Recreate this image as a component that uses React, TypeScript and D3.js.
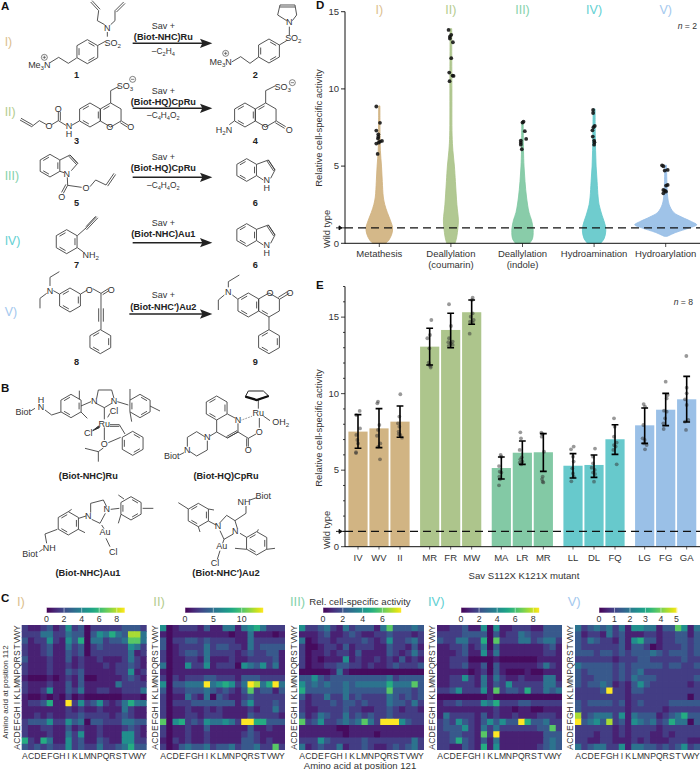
import React from "react";
import * as d3 from "d3";

const FONT = "'Liberation Sans', Arial, sans-serif";
const INK = "#333";
const colors = ["#cfb07c", "#a9c286", "#7cc6a0", "#5fc6c9", "#95bde6"];
const romanColors = ["#dcc08e", "#b4cc8e", "#85d2ac", "#62d0d2", "#a3c8ee"];
const romans = ["I)", "II)", "III)", "IV)", "V)"];

// Panel D
const violinNames = [["Metathesis"], ["Deallylation", "(coumarin)"], ["Deallylation", "(indole)"], ["Hydroamination"], ["Hydroarylation"]];
const violinLevels = [
  [0, 0.2, 0.6, 1, 1.5, 2, 2.5, 3, 4, 5, 6, 7, 8.9],
  [0, 0.4, 1, 1.5, 2.5, 4, 5, 6, 7, 10, 13.9],
  [0, 0.3, 0.7, 1, 1.5, 2, 3, 4, 5, 6, 7.9],
  [0, 0.3, 0.8, 1.2, 1.8, 2.5, 3, 4, 5, 6, 7, 8.7],
  [0.45, 0.7, 1, 1.2, 1.4, 1.7, 2, 2.5, 3, 4, 5.05],
];
const violinDensity = [
  [6.5, 9.5, 12.5, 13.3, 11, 8, 5.5, 4, 3, 2.2, 1.1, 0.8, 0.6],
  [4.2, 5.8, 7, 7.5, 6, 4.5, 3.5, 2, 1.2, 1, 0.8],
  [7, 10, 10.7, 10.5, 9, 6.5, 4, 2.5, 1.5, 1, 0.7],
  [6.5, 10, 11.7, 11, 8, 5, 4, 3, 2, 1.5, 1.2, 1],
  [1.5, 10, 24, 31, 26, 16, 8, 3.5, 2, 1.2, 0.8],
];
const violinPoints = [
  [8.86, 7.8, 7.3, 7.06, 6.9, 6.78, 6.63, 6.59, 6.52, 6.46, 5.79],
  [13.82, 13.5, 13.39, 13.26, 13.02, 11.99, 11.06, 10.86, 10.84, 10.5],
  [7.88, 7.82, 7.26, 6.76, 6.65, 6.52, 6.39, 6.09],
  [8.64, 8.44, 7.6, 7.52, 7.32, 6.91, 6.65, 6.54, 6.39],
  [5.05, 4.99, 4.75, 4.71, 3.78, 3.74, 3.46, 3.41, 3.35, 3.24],
];
const violinJitter = [
  [-9, 2, -9, -3, -3, -4, 8, 2, -2, -9, -5],
  [-7, 1, -3, -3, 6, 1, -5, 5, 8, -4],
  [3, 0, 7, 11, -5, -5, -5, -2],
  [-3, -3, 2, -2, -5, -4, 0, 1, 0],
  [-11, -7, 6, -3, 6, 1, -7, -2, 1, -7],
];

// Panel E
const barGroups = [0, 0, 0, 1, 1, 1, 2, 2, 2, 3, 3, 3, 4, 4, 4];
const barNames = ["IV", "WV", "II", "MR", "FR", "MW", "MA", "LR", "MR", "LL", "DL", "FQ", "LG", "FG", "GA"];
const barMeans = [7.52, 7.73, 8.17, 13.07, 14.16, 15.32, 5.14, 6.14, 6.17, 5.29, 5.34, 7.02, 7.93, 8.95, 9.63];
const barHigh = [8.63, 9.02, 9.19, 14.27, 15.25, 16.12, 5.86, 6.91, 7.39, 6.08, 5.99, 7.97, 9.06, 10.02, 11.13];
const barLow = [6.43, 6.47, 7.15, 11.87, 13.0, 14.53, 4.42, 5.38, 4.92, 4.49, 4.53, 6.03, 6.75, 7.91, 8.15];
const barPoints = [
  [8.87, 8.6, 7.73, 7.3, 6.97, 6.75, 6.17, 6.12],
  [9.48, 9.37, 7.95, 7.63, 7.25, 6.75, 6.54, 5.71],
  [9.96, 8.5, 8.06, 7.84, 7.52, 7.36, 7.3, 7.12],
  [14.81, 13.83, 13.62, 12.96, 12.03, 11.87, 11.81, 11.7],
  [15.84, 14.42, 13.62, 13.4, 13.36, 13.29, 13.18, 13.12],
  [16.27, 16.12, 15.25, 15.03, 14.81, 14.71, 14.64, 13.92],
  [5.99, 5.88, 5.27, 4.9, 4.84, 4.58, 4.4, 4.01],
  [7.47, 7.08, 6.32, 5.84, 5.71, 5.56, 5.49, 5.38],
  [7.45, 7.36, 7.19, 6.21, 4.58, 4.42, 4.25, 4.2],
  [6.54, 6.36, 5.88, 5.56, 5.12, 4.79, 4.58, 4.27],
  [6.41, 5.88, 5.45, 5.16, 5.01, 4.84, 4.75, 4.25],
  [8.39, 7.84, 7.19, 6.8, 6.64, 6.54, 6.32, 5.38],
  [9.32, 9.15, 7.95, 7.08, 6.97, 6.75, 6.64, 6.36],
  [10.78, 9.91, 9.69, 8.89, 8.82, 8.39, 8.06, 7.69],
  [12.46, 10.39, 10.02, 9.63, 9.26, 8.28, 8.17, 7.63],
];
const barJitter = [
  [5, -5, 6, -5, -2, 0, -6, -6],
  [-3, -5, 1, -3, -6, 4, -2, 3],
  [1, -2, -6, -2, -4, -4, 1, 6],
  [5, 1, -7, -1, -3, -1, 3, 3],
  [-5, 1, -5, 6, -7, 0, 6, -6],
  [3, 1, 3, -3, 6, -5, 3, -6],
  [-2, 0, -7, -5, 0, -6, -4, -7],
  [-6, -4, -8, -2, -6, 0, -8, -3],
  [-6, -2, -5, 2, -2, -4, -2, 0],
  [2, -6, 0, 2, -2, 0, 2, -5],
  [3, -3, -3, -7, 2, -3, 3, 0],
  [-3, -1, -3, 5, -3, 2, -5, 5],
  [-3, 1, -4, -6, 0, -2, 6, 1],
  [0, 6, 3, -5, 3, -2, -7, -6],
  [-1, 0, 0, -5, 0, 5, -5, -2],
];

// Panel C: rows run top to bottom, columns left to right; digits are tenths of the colour bar
const aa = "ACDEFGHIKLMNPQRSTVWY".split("");
const aaRows = "YWVTSRQPNMLKIHGFEDCA".split("");
const heat1 = ["21123125230222223332","22244224330354643884","31225215360442334774","21123114230232222542","21123113230222222412","31112113121121112421","21112112121112122321","21112113231111122512","10001012130011112321","21112113131111142222","21125113241122112224","10010102010000001110","12236119252352124644","11111112121121114211","11212112232222123211","23335225340332224433","21122113121121112321","21112114251121115521","62164115231132115522","32323225232242234633"];
const heat2 = ["50122213114414564222","10111111111011411101","30223323222211422222","30122224233221423333","20123324222212322331","20112214111211222231","40115225122205435241","10111111111111111111","20212223322213332222","50334449456524984694","30223334323213723313","20114214032112322222","20222333333313522232","20112112121111212242","20112212221111322221","70562325445429966333","20112113111111311211","20112112111112321111","10212112111113321211","20134334233423342272"];
const heat3 = ["52234214233314733343","11123112321122322212","40122122223212522342","20012213122211322131","20112122131111321242","20101115121121213121","20112233221211232223","00000141000000000000","33532333333333423333","53434334344444644473","63333334333333733323","31224224232222432323","21222323323222433242","21122223221122321221","31243224232322322222","72352234347429995322","11111100111111111111","11111110111101111111","22253222223222222242","41232241223211232342"];
const heat4 = ["11223115051122211333","22223333031224322333","32244226072224423442","11223124031111111231","11123115141111111221","11222000010000001111","11223113031111112421","11111012031000100111","11225214142112111441","11222214132522222442","22352225172332622434","00000000100000000000","12232225462223322222","11111111121101100111","14222213121121112221","23253213535339633422","23335214242222223372","22332217291111111333","22363213141111111343","22113216151111112343"];
const heat5 = ["42343424155441337514","31221423111221223313","32432213156331223323","32222223133201222323","33323323233343233323","22222212223322222322","43333323233333233223","32333323234222222222","32233323243332222223","32334312135322222212","22223922133222222222","22222222122222222202","32333323123222233333","32222222122222122222","82344425143331234633","93453823154342364403","22222212122221222222","22212212122211212222","22112211121211122211","42344225144332323523"];
const heatRows = [heat1, heat2, heat3, heat4, heat5];
const heatMax = [8.9, 13.8, 7.9, 8.65, 5.05];
const heatTicks = [[0, 2, 4, 6, 8], [0, 5, 10], [0, 2, 4, 6], [0, 2, 4, 6, 8], [0, 1, 2, 3, 4, 5]];
const heatLeft = [21.7, 160, 299, 437, 575];
const barLeft = [46.5, 185, 323, 461, 599];
const romanLeft = [17, 153.3, 290, 428, 567.7];

const yD = d3.scaleLinear().domain([0, 15]).range([243.3, 11.7]);
const xD = d3.scaleLinear().domain([0, 4]).range([379.3, 665.7]);
const yE = d3.scaleLinear().domain([0, 17]).range([546.7, 286.5]);
const stepE = 21;
const gapE = 8.67;
const xE = (i: number) => 358 + i * stepE + barGroups[i] * gapE;

function Txt({ x, y, size = 9.5, anchor = "start", weight = "normal", fill = INK, rot, children, style }: any) {
  return (
    <text x={rot === undefined ? x : 0} y={rot === undefined ? y : 0} transform={rot === undefined ? undefined : `translate(${x},${y}) rotate(${rot})`} fontSize={size} textAnchor={anchor} fontWeight={weight} fill={fill} fontFamily={FONT} style={style}>
      {children}
    </text>
  );
}

// Chem text with subscripts such as C_4H_4O_2, in the 3x drawing space
function Chem({ x, y, s, size, anchor = "middle", weight = "normal" }: any) {
  const fs = size ?? (weight === "bold" ? 27.5 : 27);
  const parts = String(s).split(/(_[\dn])/);
  let pending = 0;
  return (
    <text x={x} y={y} fontSize={fs} textAnchor={anchor} fontWeight={weight} fill={weight === "bold" ? "#222" : "#333"} fontFamily={FONT}>
      {parts.filter((p) => p !== "").map((p, i) => {
        if (p[0] === "_") {
          const dy = 6 - pending;
          pending = 6;
          return <tspan key={i} dy={dy} fontSize={fs * 0.68}>{p.slice(1)}</tspan>;
        }
        const dy = -pending;
        pending = 0;
        return <tspan key={i} dy={dy}>{p}</tspan>;
      })}
    </text>
  );
}

function ring(cx: number, cy: number, r = 36, dbl = [0, 2, 4]) {
  const v = d3.range(6).map((i) => {
    const a = ((-90 + 60 * i) * Math.PI) / 180;
    return [cx + r * Math.cos(a), cy + r * Math.sin(a)];
  });
  let d = "M" + v.map((p) => p.join(",")).join("L") + "Z";
  dbl.forEach((i) => {
    const a = v[i], b = v[(i + 1) % 6];
    const p = (q: number[], o: number[], t: number) => [q[0] + (o[0] - q[0]) * t, q[1] + (o[1] - q[1]) * t];
    const a2 = p(p(a, b, 0.14), [cx, cy], 0.2);
    const b2 = p(p(b, a, 0.14), [cx, cy], 0.2);
    d += `M${a2.join(",")}L${b2.join(",")}`;
  });
  return d;
}
const pl = (...n: number[]) => "M" + d3.range(0, n.length, 2).map((i) => `${n[i]},${n[i + 1]}`).join("L");
const dbl = (x1: number, y1: number, x2: number, y2: number, o = 6) => {
  const l = Math.hypot(x2 - x1, y2 - y1);
  const nx = (-(y2 - y1) / l) * o, ny = ((x2 - x1) / l) * o;
  return pl(x1, y1, x2, y2) + pl(x1 + nx, y1 + ny, x2 + nx, y2 + ny);
};

const bondsA = [
  ring(262, 155), pl(294, 136, 316, 124), pl(322, 110, 322, 96), pl(314, 74, 292, 62, 296, 32), dbl(296, 32, 272, 6), pl(332, 74, 345, 62, 345, 32), dbl(345, 32, 371, 6), pl(230, 174, 205, 190, 176, 172, 150, 188),
  ring(807, 153), pl(838, 135, 860, 122), pl(868, 105, 868, 80), pl(860, 62, 833, 45, 840, 15), dbl(840, 15, 885, 15), pl(885, 15, 890, 45, 877, 62), pl(776, 171, 750, 190, 722, 170, 695, 186),
  ring(270, 345, 36, [1, 3, 5]), ring(332, 345, 36, [5]), pl(332, 309, 332, 272, 355, 260), pl(238, 363, 215, 376), pl(198, 376, 175, 362), dbl(175, 362, 175, 335), pl(175, 362, 155, 374), pl(140, 374, 118, 362, 95, 380), dbl(95, 380, 60, 360),
  dbl(364, 363, 385, 376),
  ring(735, 345, 36, [1, 3, 5]), ring(797, 345, 36, [5]), pl(797, 309, 797, 272, 825, 258), pl(703, 363, 688, 374), dbl(829, 363, 857, 380),
  ring(150, 497, 34, [1, 3, 5]), pl(180, 480, 210, 465, 233, 490, 214, 512), dbl(210, 465, 233, 490, 5), pl(180, 514, 192, 518), pl(202, 532, 203, 556), dbl(203, 556, 190, 580), pl(203, 556, 245, 562), pl(270, 560, 287, 540, 318, 555), dbl(318, 555, 342, 520),
  ring(740, 510, 34, [1, 3, 5]), pl(770, 493, 805, 480, 825, 510, 812, 535), dbl(805, 480, 825, 510, 5), pl(770, 527, 790, 540),
  ring(740, 705, 34, [1, 3, 5]), pl(770, 688, 805, 675, 825, 705, 812, 730), dbl(805, 675, 825, 705, 5), pl(770, 722, 790, 735),
  ring(200, 725, 36, [1, 3, 5]), pl(232, 707, 258, 684), dbl(256, 686, 290, 650, 5), pl(258, 680, 287, 649), pl(232, 743, 250, 756),
  ring(210, 900, 36, [1, 3, 5]), pl(178, 882, 160, 872), pl(150, 858, 150, 832, 178, 815), pl(140, 880, 120, 895, 120, 925), pl(242, 882, 262, 870), pl(278, 866, 303, 880, 325, 866), pl(303, 880, 303, 989), pl(296, 925, 296, 965), pl(310, 925, 310, 965), pl(308, 884, 327, 872), ring(301, 1025, 36, [1, 3, 5]),
  ring(745, 915, 36, [1, 3, 5]), ring(807, 915, 36, [3]), pl(713, 897, 697, 885), pl(685, 862, 685, 845, 718, 825), pl(673, 885, 655, 900, 655, 930), pl(840, 897, 868, 880), pl(835, 892, 862, 875), pl(807, 951, 807, 989), ring(807, 1025, 36, [1, 3, 5]),
].join("");

const bondsB = [
  pl(92, 243, 105, 235), pl(135, 240, 155, 255, 183, 246), ring(213, 228, 35, [1, 3, 5]), pl(238, 208, 238, 182), pl(243, 246, 262, 265), pl(243, 228, 273, 215),
  pl(290, 205, 295, 180, 335, 180, 342, 205), pl(288, 220, 313, 233, 335, 220), pl(352, 215, 385, 225), ring(420, 228, 35, [0, 2, 4]), pl(390, 210, 390, 177), pl(390, 246, 395, 275), pl(450, 228, 480, 243),
  pl(313, 233, 313, 268), pl(323, 262, 330, 250), dbl(330, 284, 358, 284, 5), pl(358, 284, 375, 312), ring(398, 340, 36, [0, 2, 4]), pl(313, 292, 313, 330), pl(325, 338, 362, 322), pl(310, 354, 295, 365, 255, 355), pl(295, 365, 295, 395),
  ring(650, 234, 36, [1, 3, 5]), pl(682, 252, 705, 264), pl(714, 280, 714, 306, 682, 324, 650, 306, 650, 270), dbl(714, 306, 682, 324, 5), pl(650, 306, 630, 318), pl(614, 320, 590, 305, 562, 322, 562, 350), pl(570, 365, 590, 378, 622, 360, 622, 332), pl(538, 375, 552, 368),
  pl(714, 306, 745, 325), dbl(745, 325, 745, 350, 5), pl(745, 325, 768, 312), pl(778, 264, 778, 293), pl(790, 258, 810, 272), pl(775, 208, 775, 236),
  pl(118, 665, 128, 658), pl(140, 640, 135, 612, 172, 598), ring(205, 580, 35, [1, 3, 5]), pl(205, 545, 215, 538), pl(235, 598, 255, 608), pl(236, 565, 258, 558), pl(272, 548, 272, 520, 310, 510, 320, 530), pl(275, 568, 300, 580, 316, 550),
  pl(332, 538, 358, 535), ring(393, 535, 35, [0, 2, 4]), pl(372, 507, 355, 495), pl(363, 553, 355, 580), pl(428, 535, 460, 535), pl(305, 585, 312, 596), pl(318, 625, 330, 650),
  pl(750, 510, 770, 503), pl(738, 528, 738, 550, 705, 572), pl(705, 572, 712, 595), pl(700, 612, 672, 628, 660, 602), pl(658, 580, 680, 556, 705, 572), ring(595, 555, 35, [1, 3, 5]), pl(565, 537, 535, 518), pl(625, 537, 642, 540), pl(595, 590, 600, 606), pl(625, 573, 648, 585),
  ring(770, 640, 35, [1, 3, 5]), pl(720, 610, 740, 622), pl(772, 605, 775, 598), pl(740, 658, 705, 655), pl(800, 658, 825, 655), pl(672, 628, 668, 640), pl(660, 662, 652, 688),
].join("");

function Reaction({ y, cat, minus, tSav, tCat, tMinus, x0 = 398 }: any) {
  return (
    <g>
      <Chem x={490} y={tSav} s="Sav +" />
      <Chem x={490} y={tCat} s={cat} weight="bold" />
      {minus && <Chem x={490} y={tMinus} s={minus} size={25} />}
      <path d={pl(x0, y, 610, y)} stroke="#222" strokeWidth={4.5} fill="none" />
      <path d={`M600,${y - 14}L637,${y}L600,${y + 14}L607,${y}Z`} fill="#222" />
    </g>
  );
}

function Heat({ k }: { k: number }) {
  const x = d3.scaleBand<string>().domain(aa).range([heatLeft[k], heatLeft[k] + 125]);
  const y = d3.scaleBand<string>().domain(aaRows).range([625, 750]);
  const color = (level: number) => d3.interpolateViridis(0.03 + 0.97 * Math.pow(level / 9, 1.25));
  const bx = d3.scaleLinear().domain([0, heatMax[k]]).range([barLeft[k], barLeft[k] + 78.2]);
  const stops = d3.range(0, 1.001, 0.05);
  return (
    <g>
      {aaRows.map((r, ri) =>
        aa.map((c, ci) => (
          <rect key={r + c} x={x(c)} y={y(r)} width={x.bandwidth() + (ci < 19 ? 0.7 : 0)} height={y.bandwidth() + (ri < 19 ? 0.7 : 0)} fill={color(+heatRows[k][ri][ci])} />
        ))
      )}
      {aaRows.map((r) => (
        <Txt key={r} x={heatLeft[k] - 2} y={y(r)! + 3.1} size={8.6} anchor="middle" rot={-90}>{r}</Txt>
      ))}
      {aa.map((c) => (
        <Txt key={c} x={x(c)! + 3.1} y={758.5} size={8.6} anchor="middle">{c}</Txt>
      ))}
      <defs>
        <linearGradient id={`cb${k}`}>
          {stops.map((s) => <stop key={s} offset={s} stopColor={d3.interpolateViridis(s)} />)}
        </linearGradient>
      </defs>
      <rect x={barLeft[k]} y={607.7} width={78.2} height={5} fill={`url(#cb${k})`} />
      {heatTicks[k].map((t) => (
        <g key={t}>
          <line x1={bx(t)} x2={bx(t)} y1={607.7} y2={612.7} stroke="#fff" strokeWidth={0.5} />
          <Txt x={bx(t)} y={621.5} size={8.8} anchor="middle">{t}</Txt>
        </g>
      ))}
      <Txt x={romanLeft[k]} y={606} size={13} fill={romanColors[k]}>{romans[k]}</Txt>
    </g>
  );
}

export default function App() {
  const area = d3.area<[number, number]>().x0((d) => -d[1]).x1((d) => d[1]).y((d) => yD(d[0])).curve(d3.curveCatmullRom.alpha(0.5));
  return (
    <svg width={700} height={770} style={{ position: "absolute", left: 0, top: 0, background: "#fff" }}>
      {/* Panel labels */}
      {[["A", 1, 10], ["B", 1, 392], ["C", 1, 602], ["D", 316, 9], ["E", 316, 289]].map(([t, x, y]) => (
        <Txt key={t as string} x={x} y={y} size={11.5} weight="bold" fill="#111">{t}</Txt>
      ))}

      {/* Panel A and B drawn in 3x space */}
      <g transform="scale(0.33333)">
        <path d={bondsA} fill="none" stroke="#3a3a3a" strokeWidth={2.6} />
        {[[125], [335], [525], [720], [935]].map(([y], i) => (
          <text key={i} x={14} y={y + 14} fontSize={37} fill={romanColors[i]} fontFamily={FONT}>{romans[i]}</text>
        ))}
        <Chem x={322} y={92} s="N" />
        <Chem x={338} y={138} s="SO_2" />
        <Chem x={118} y={204} s="Me_3N" />
        <circle cx={133} cy={172} r={9} fill="none" stroke="#444" strokeWidth={2} />
        <path d={pl(128, 172, 138, 172) + pl(133, 167, 133, 177)} stroke="#444" strokeWidth={2} />
        <Chem x={230} y={234} s="1" weight="bold" />
        <Chem x={868} y={76} s="N" />
        <Chem x={880} y={124} s="SO_2" />
        <Chem x={662} y={194} s="Me_3N" />
        <circle cx={677} cy={160} r={9} fill="none" stroke="#444" strokeWidth={2} />
        <path d={pl(672, 160, 682, 160) + pl(677, 155, 677, 165)} stroke="#444" strokeWidth={2} />
        <Chem x={766} y={234} s="2" weight="bold" />
        <Reaction y={130} cat="(Biot-NHC)Ru" minus="–C_2H_4" tSav={87} tCat={120} tMinus={163} />

        <Chem x={375} y={267} s="SO_3" />
        <circle cx={398} cy={238} r={9} fill="none" stroke="#444" strokeWidth={2} />
        <path d={pl(393, 238, 403, 238)} stroke="#444" strokeWidth={2} />
        <Chem x={329} y={390} s="O" />
        <Chem x={392} y={389} s="O" />
        <Chem x={175} y={335} s="O" />
        <Chem x={147} y={387} s="O" />
        <Chem x={207} y={386} s="N" />
        <Chem x={207} y={410} s="H" />
        <Chem x={230} y={433} s="3" weight="bold" />
        <Chem x={848} y={270} s="SO_3" />
        <circle cx={877} cy={248} r={9} fill="none" stroke="#444" strokeWidth={2} />
        <path d={pl(872, 248, 882, 248)} stroke="#444" strokeWidth={2} />
        <Chem x={672} y={398} s="H_2N" />
        <Chem x={795} y={391} s="O" />
        <Chem x={868} y={398} s="O" />
        <Chem x={766} y={431} s="4" weight="bold" />
        <Reaction y={325} cat="(Biot-HQ)CpRu" minus="–C_4H_4O_2" tSav={281} tCat={315} tMinus={355} />

        <Chem x={200} y={530} s="N" />
        <Chem x={185} y={600} s="O" />
        <Chem x={258} y={574} s="O" />
        <Chem x={230} y={619} s="5" weight="bold" />
        <Chem x={800} y={548} s="N" />
        <Chem x={800} y={572} s="H" />
        <Chem x={766} y={619} s="6" weight="bold" />
        <Reaction y={532} cat="(Biot-HQ)CpRu" minus="–C_4H_4O_2" tSav={481} tCat={514} tMinus={564} />

        <Chem x={272} y={774} s="NH_2" />
        <Chem x={230} y={804} s="7" weight="bold" />
        <Chem x={800} y={743} s="N" />
        <Chem x={800} y={767} s="H" />
        <Chem x={766} y={804} s="6" weight="bold" />
        <Reaction y={728} cat="(Biot-NHC)Au1" tSav={679} tCat={712} />

        <Chem x={150} y={882} s="N" />
        <Chem x={268} y={878} s="O" />
        <Chem x={334} y={880} s="O" />
        <Chem x={230} y={1094} s="8" weight="bold" />
        <Chem x={685} y={886} s="N" />
        <Chem x={810} y={888} s="O" />
        <Chem x={870} y={888} s="O" />
        <Chem x={766} y={1094} s="9" weight="bold" />
        <Reaction y={942} cat="(Biot-NHC′)Au2" tSav={894} tCat={931} x0={388} />

        <g transform="translate(0,990)">
          <path d={bondsB} fill="none" stroke="#3a3a3a" strokeWidth={2.6} />
          <Chem x={70} y={255} s="Biot" />
          <Chem x={123} y={218} s="H" />
          <Chem x={123} y={241} s="N" />
          <Chem x={283} y={222} s="N" />
          <Chem x={342} y={222} s="N" />
          <Chem x={313} y={290} s="Ru" />
          <Chem x={342} y={253} s="Cl" />
          <Chem x={265} y={319} s="Cl" />
          <path d="M278,302L296,288L298,293Z" fill="#333" stroke="#333" strokeWidth={3} />
          <Chem x={313} y={351} s="O" />
          <Chem x={265} y={447} s="(Biot-NHC)Ru" weight="bold" />
          <Chem x={714} y={279} s="N" />
          <Chem x={775} y={259} s="Ru" />
          <Chem x={778} y={314} s="O" />
          <Chem x={745} y={369} s="O" />
          <Chem x={842} y={286} s="OH_2" />
          <Chem x={622} y={331} s="N" />
          <Chem x={562} y={368} s="N" />
          <Chem x={515} y={387} s="Biot" />
          <path d={pl(725, 270, 758, 258)} stroke="#444" strokeWidth={2.5} strokeDasharray="2 3" />
          <path d="M745,183L790,183L806,198L770,210L736,200Z" fill="none" stroke="#222" strokeWidth={3} />
          <path d="M736,200L770,210L806,198" fill="none" stroke="#111" strokeWidth={7} />
          <Chem x={678} y={447} s="(Biot-HQ)CpRu" weight="bold" />
          <Chem x={90} y={682} s="Biot" />
          <Chem x={148} y={663} s="NH" />
          <Chem x={265} y={568} s="N" />
          <Chem x={320} y={547} s="N" />
          <Chem x={315} y={616} s="Au" />
          <Chem x={340} y={675} s="Cl" />
          <Chem x={790} y={506} s="Biot" />
          <Chem x={732} y={525} s="NH" />
          <Chem x={654} y={598} s="N" />
          <Chem x={706} y={613} s="N" />
          <Chem x={665} y={658} s="Au" />
          <Chem x={645} y={708} s="Cl" />
        </g>
      </g>
      <Txt x={88} y={576} size={9.3} anchor="middle" weight="bold" fill="#222">(Biot-NHC)Au1</Txt>
      <Txt x={226} y={576} size={9.3} anchor="middle" weight="bold" fill="#222">(Biot-NHC′)Au2</Txt>

      {/* Panel D */}
      {violinLevels.map((lv, k) => {
        const pts = lv.map((v, i) => [v, violinDensity[k][i]] as [number, number]);
        return (
          <g key={k}>
            <path d={area(pts)!} transform={`translate(${xD(k)},0)`} fill={colors[k]} fillOpacity={0.9} stroke={colors[k]} strokeWidth={0.8} />
            {violinPoints[k].map((v, i) => (
              <circle key={i} cx={xD(k) + violinJitter[k][i] / 3} cy={yD(v)} r={1.9} fill="#111" fillOpacity={0.88} />
            ))}
            <Txt x={xD(k)} y={14} size={12.5} anchor="middle" fill={romanColors[k]}>{romans[k]}</Txt>
            <line x1={xD(k)} x2={xD(k)} y1={243.3} y2={247} stroke="#222" strokeWidth={0.8} />
            {violinNames[k].map((t, j) => (
              <Txt key={j} x={xD(k)} y={257 + j * 11} size={9.5} anchor="middle">{t}</Txt>
            ))}
          </g>
        );
      })}
      <line x1={345} x2={700} y1={yD(1)} y2={yD(1)} stroke="#111" strokeWidth={1.3} strokeDasharray="8 5" />
      <line x1={345} x2={345} y1={11.7} y2={243.8} stroke="#111" strokeWidth={1} />
      <line x1={345} x2={700} y1={243.3} y2={243.3} stroke="#111" strokeWidth={1} />
      {[0, 5, 10, 15].map((t) => (
        <g key={t}>
          <line x1={341} x2={345} y1={yD(t)} y2={yD(t)} stroke="#111" strokeWidth={0.9} />
          <Txt x={339} y={yD(t) + 3.2} size={9.5} anchor="end">{t}</Txt>
        </g>
      ))}
      <path d={`M336,${yD(1)}L345,${yD(1)}M339,${yD(1) - 2}L342,${yD(1)}L339,${yD(1) + 2}Z`} stroke="#111" strokeWidth={0.9} fill="#111" />
      <Txt x={322} y={128} size={9.5} anchor="middle" rot={-90}>Relative cell-specific activity</Txt>
      <Txt x={330} y={229} size={9.3} anchor="middle" rot={-90}>Wild type</Txt>
      <Txt x={697} y={29} size={8.6} anchor="end"><tspan fontStyle="italic">n</tspan> = 2</Txt>

      {/* Panel E */}
      {barNames.map((n, i) => {
        const col = colors[barGroups[i]];
        const x = xE(i);
        return (
          <g key={i}>
            <rect x={x - 9.6} y={yE(barMeans[i])} width={19.2} height={yE(0) - yE(barMeans[i])} fill={col} fillOpacity={0.95} />
            <line x1={x} x2={x} y1={546.7} y2={549.5} stroke="#222" strokeWidth={0.7} />
            <Txt x={x} y={560.5} size={9.5} anchor="middle">{n}</Txt>
          </g>
        );
      })}
      <line x1={345} x2={700} y1={yE(1)} y2={yE(1)} stroke="#111" strokeWidth={1.3} strokeDasharray="8 5" />
      {barNames.map((n, i) => {
        const x = xE(i);
        return (
          <g key={i}>
            {barPoints[i].map((v, j) => (
              <circle key={j} cx={x + barJitter[i][j] / 3} cy={yE(v)} r={1.9} fill="#333" fillOpacity={0.5} />
            ))}
            <path d={`M${x - 3.4},${yE(barHigh[i])}H${x + 3.4}M${x},${yE(barHigh[i])}V${yE(barLow[i])}M${x - 3.4},${yE(barLow[i])}H${x + 3.4}`} stroke="#000" strokeWidth={1.6} fill="none" />
          </g>
        );
      })}
      <line x1={345} x2={345} y1={286.5} y2={547} stroke="#111" strokeWidth={1} />
      <line x1={345} x2={700} y1={546.7} y2={546.7} stroke="#111" strokeWidth={1} />
      {d3.range(0, 18).map((t) => (
        <line key={t} x1={t % 5 === 0 ? 341 : 343} x2={345} y1={yE(t)} y2={yE(t)} stroke="#111" strokeWidth={0.8} />
      ))}
      {[0, 5, 10, 15].map((t) => (
        <Txt key={t} x={339} y={yE(t) + 3.2} size={9.5} anchor="end">{t}</Txt>
      ))}
      <path d={`M336,${yE(1)}L345,${yE(1)}M339,${yE(1) - 2}L342,${yE(1)}L339,${yE(1) + 2}Z`} stroke="#111" strokeWidth={0.9} fill="#111" />
      <Txt x={322} y={428} size={9.5} anchor="middle" rot={-90}>Relative cell-specific activity</Txt>
      <Txt x={330} y={530} size={9.3} anchor="middle" rot={-90}>Wild type</Txt>
      <Txt x={693} y={305} size={8.6} anchor="end"><tspan fontStyle="italic">n</tspan> = 8</Txt>
      <Txt x={524} y={579} size={9.6} anchor="middle">Sav S112X K121X mutant</Txt>

      {/* Panel C */}
      {[0, 1, 2, 3, 4].map((k) => <Heat key={k} k={k} />)}
      <Txt x={360} y={605} size={9.6} anchor="middle">Rel. cell-specific activity</Txt>
      <Txt x={360} y={769} size={9.6} anchor="middle">Amino acid at position 121</Txt>
      <Txt x={7.5} y={692} size={8} anchor="middle" rot={-90}>Amino acid at position 112</Txt>
    </svg>
  );
}
